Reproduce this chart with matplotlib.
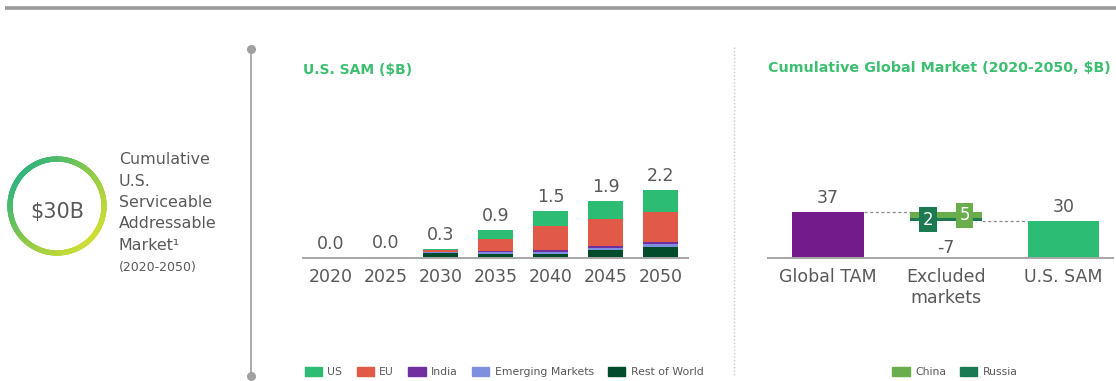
import numpy as np
import matplotlib.pyplot as plt
from matplotlib.collections import LineCollection
from matplotlib.colors import LinearSegmentedColormap
from matplotlib.patches import Patch

plt.rcParams['font.family'] = ['DejaVu Sans']

# U.S. SAM by region, $B
years = ['2020', '2025', '2030', '2035', '2040', '2045', '2050']
us = [0.00, 0.03, 0.04, 0.28, 0.51, 0.60, 0.71]
eu = [0.00, 0.00, 0.04, 0.39, 0.76, 0.88, 0.98]
india = [0.00, 0.00, 0.02, 0.05, 0.08, 0.06, 0.09]
emerging = [0.00, 0.00, 0.02, 0.04, 0.05, 0.06, 0.09]
rest_of_world = [0.00, 0.00, 0.17, 0.14, 0.14, 0.27, 0.35]

# cumulative global market waterfall, $B
wf_cats = ['Global TAM', 'Excluded\nmarkets', 'U.S. SAM']
global_tam = 37
china = 5
russia = 2
us_sam = global_tam - china - russia

GREEN_TITLE = '#3dbf72'
TEXT = '#595959'
C_US, C_EU, C_IN, C_EM, C_ROW = '#2cbc74', '#e15a48', '#7030a0', '#7f8fe0', '#024b2b'
C_TAM, C_CHINA, C_RUSSIA = '#741b8c', '#6aad4c', '#1b7a52'

W, H = 1116, 381
fig = plt.figure(figsize=(W / 100, H / 100), dpi=100)

# background layer in pixel coordinates for rules and the badge
bg = fig.add_axes([0, 0, 1, 1])
bg.set_xlim(0, W)
bg.set_ylim(H, 0)
bg.axis('off')
bg.plot([5, W], [7.5, 7.5], color='#9a9a9a', lw=2.6, solid_capstyle='butt')
bg.plot([250.5, 250.5], [49, 376], color='#a6a6a6', lw=1.3)
bg.plot([250.5, 250.5], [49, 376], 'o', color='#a0a0a0', ms=5.5)
bg.plot([733.5, 733.5], [47, 377], color='#c8c8c8', lw=1, ls=(0, (1, 1.5)))

# gradient ring
cx, cy, r = 57, 206, 47
theta = np.linspace(0, 2 * np.pi, 361)
px, py = cx + r * np.cos(theta), cy + r * np.sin(theta)
segs = np.stack([np.column_stack([px[:-1], py[:-1]]),
                 np.column_stack([px[1:], py[1:]])], axis=1)
tmid = (theta[:-1] + theta[1:]) / 2
grad = (np.cos(tmid) + np.sin(tmid) + np.sqrt(2)) / (2 * np.sqrt(2))
ring_cmap = LinearSegmentedColormap.from_list('ring', ['#34b57a', '#8cc94a', '#cddd36'])
bg.add_collection(LineCollection(segs, colors=ring_cmap(grad), lw=3.8, capstyle='round'))
bg.text(cx, 212, '$30B', ha='center', va='center', fontsize=15, color=TEXT)

side_lines = ['Cumulative', 'U.S.', 'Serviceable', 'Addressable', 'Market\u00b9']
for i, s in enumerate(side_lines):
    bg.text(119, 160 + i * 21.3, s, ha='left', va='center', fontsize=11.4, color=TEXT)
bg.text(119, 267, '(2020-2050)', ha='left', va='center', fontsize=9, color=TEXT)

bg.text(303, 70, 'U.S. SAM ($B)', ha='left', va='center', fontsize=10,
        color=GREEN_TITLE, fontweight='semibold')
bg.text(768, 68, 'Cumulative Global Market (2020-2050, $B)', ha='left', va='center',
        fontsize=10.3, color=GREEN_TITLE, fontweight='semibold')


def px_axes(x0, x1, y_top, y_base):
    return fig.add_axes([x0 / W, 1 - y_base / H, (x1 - x0) / W, (y_base - y_top) / H])


# stacked bars
ax = px_axes(303, 688, 150, 258)
x = np.arange(len(years))
bottom = np.zeros(len(years))
for vals, col in [(rest_of_world, C_ROW), (emerging, C_EM), (india, C_IN), (eu, C_EU), (us, C_US)]:
    ax.bar(x, vals, 0.62, bottom=bottom, color=col, edgecolor='none')
    bottom += np.array(vals)
for xi, tot in zip(x, bottom):
    ax.annotate(f'{tot:.1f}', (xi, tot), xytext=(0, 10), textcoords='offset points',
                ha='center', va='center', fontsize=12.5, color=TEXT)
ax.set_xlim(-0.5, 6.5)
ax.set_ylim(0, 108 / 30.7)
ax.set_xticks(x, years)

# waterfall
ax2 = px_axes(768, 1113, 150, 258)
bw = 0.61
ax2.bar(0, global_tam, bw, color=C_TAM)
ax2.bar(1, china, bw, bottom=global_tam - china, color=C_CHINA)
ax2.bar(1, russia, bw, bottom=us_sam, color=C_RUSSIA)
ax2.bar(2, us_sam, bw, color=C_US)
ax2.plot([bw / 2, 1 - bw / 2], [global_tam] * 2, color='#8c8c8c', lw=0.9, ls=(0, (2.5, 2)))
ax2.plot([1 + bw / 2, 2 - bw / 2], [us_sam] * 2, color='#8c8c8c', lw=0.9, ls=(0, (2.5, 2)))
for xi, v in [(0, global_tam), (2, us_sam)]:
    ax2.annotate(f'{v}', (xi, v), xytext=(0, 10), textcoords='offset points',
                 ha='center', va='center', fontsize=12.5, color=TEXT)
ax2.annotate(f'{us_sam - global_tam}', (1, us_sam), xytext=(0, -19.5), textcoords='offset points',
             ha='center', va='center', fontsize=12.5, color=TEXT)
ax2.text(1 - 0.15, us_sam + russia / 2, f'{russia}', ha='center', va='center', fontsize=12,
         color='white', bbox=dict(boxstyle='square,pad=0.2', fc=C_RUSSIA, ec='none'))
ax2.text(1 + 0.16, global_tam - china / 2, f'{china}', ha='center', va='center', fontsize=12,
         color='white', bbox=dict(boxstyle='square,pad=0.2', fc=C_CHINA, ec='none'))
ax2.set_xlim(-0.51, 2.42)
ax2.set_ylim(0, 108 / 1.24)
ax2.set_xticks(range(3), wf_cats)

for a in (ax, ax2):
    a.patch.set_alpha(0)
    for s in ('top', 'right', 'left'):
        a.spines[s].set_visible(False)
    a.spines['bottom'].set_color('#a6a6a6')
    a.spines['bottom'].set_linewidth(1.4)
    a.set_yticks([])
    a.tick_params(axis='x', length=0, pad=7, labelsize=12.5, labelcolor=TEXT)

leg_kw = dict(frameon=False, fontsize=7.8, handlelength=1.6, handleheight=1.0,
              handletextpad=0.5, columnspacing=1.3, labelcolor=TEXT)
fig.legend([Patch(color=c) for c in (C_US, C_EU, C_IN, C_EM, C_ROW)],
           ['US', 'EU', 'India', 'Emerging Markets', 'Rest of World'],
           loc='center', bbox_to_anchor=(504 / W, 1 - 372 / H), ncol=5, **leg_kw)
fig.legend([Patch(color=c) for c in (C_CHINA, C_RUSSIA)], ['China', 'Russia'],
           loc='center', bbox_to_anchor=(955 / W, 1 - 372 / H), ncol=2, **leg_kw)

fig.savefig('out.png', dpi=100)
